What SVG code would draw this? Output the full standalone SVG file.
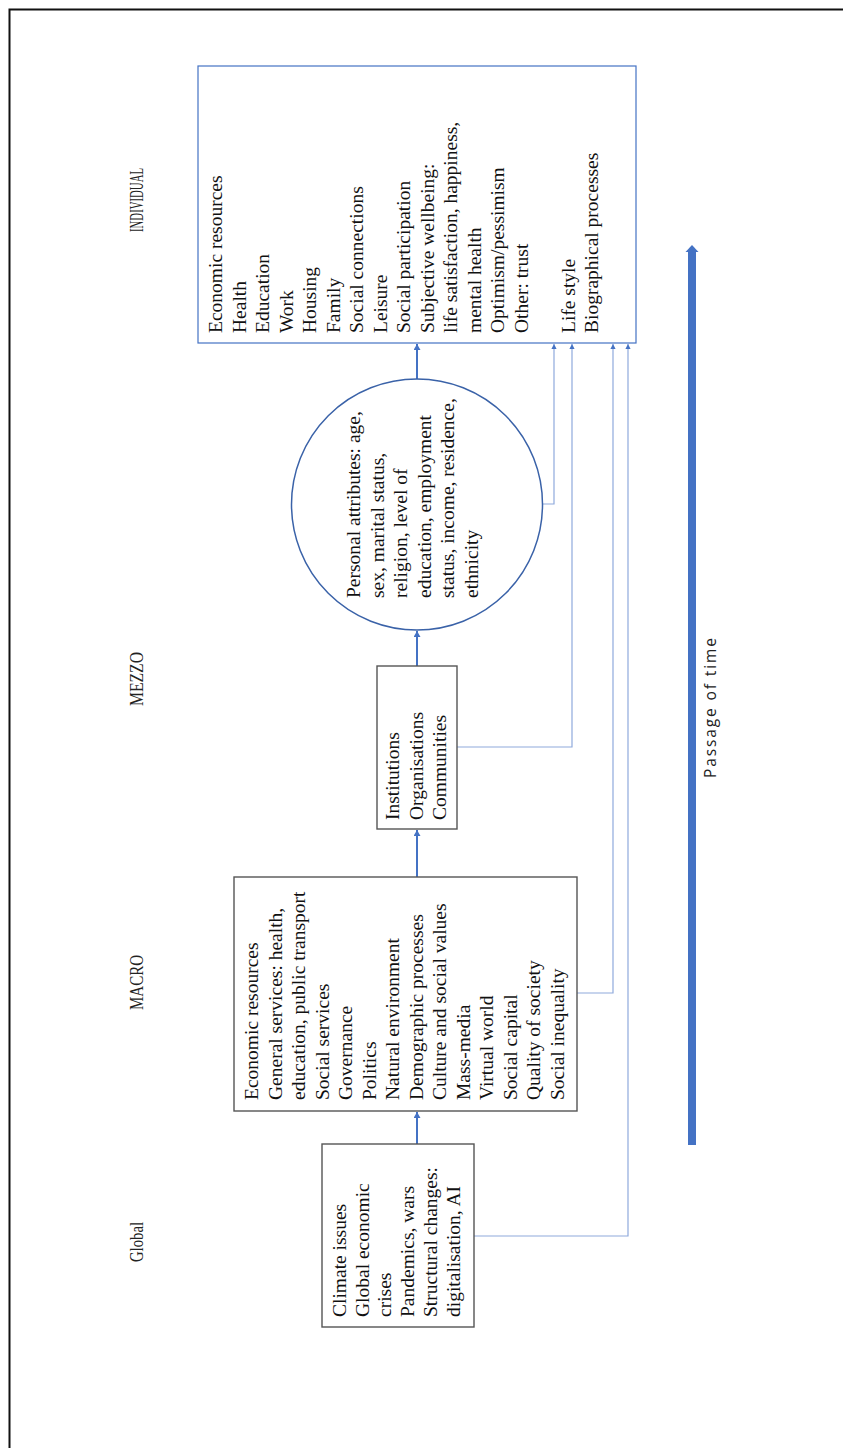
<svg xmlns="http://www.w3.org/2000/svg" width="843" height="1448" viewBox="0 0 843 1448">
<style>
.t{font-family:"Liberation Serif","Times New Roman",serif;font-size:19.5px;fill:#111;}
.lab{font-family:"Liberation Serif","Times New Roman",serif;font-size:19.5px;fill:#222;}
.box{fill:none;stroke:#555;stroke-width:1.4;}
.main{stroke:#4472C4;stroke-width:2;fill:none;}
.thin{stroke:#8FAADC;stroke-width:1.2;fill:none;}
</style>
<defs>
<marker id="ah" markerUnits="userSpaceOnUse" markerWidth="8" markerHeight="8" refX="6" refY="3.5" orient="auto"><path d="M0,0 L6,3.5 L0,7 z" fill="#4472C4"/></marker>
<marker id="sh" markerUnits="userSpaceOnUse" markerWidth="7" markerHeight="7" refX="5" refY="2.6" orient="auto"><path d="M0,0 L5,2.6 L0,5.2 z" fill="#4472C4"/></marker>
</defs>
<rect width="843" height="1448" fill="#fff"/>
<path d="M9.5,1448 V9.5 H843" fill="none" stroke="#111" stroke-width="2"/>

<g id="labels">
<text class="lab" transform="translate(143,232) rotate(-90)" textLength="64" lengthAdjust="spacingAndGlyphs">INDIVIDUAL</text>
<text class="lab" transform="translate(143,706) rotate(-90)" textLength="54" lengthAdjust="spacingAndGlyphs">MEZZO</text>
<text class="lab" transform="translate(143,1010) rotate(-90)" textLength="55" lengthAdjust="spacingAndGlyphs">MACRO</text>
<text class="lab" transform="translate(143,1262) rotate(-90)" textLength="40" lengthAdjust="spacingAndGlyphs">Global</text>
</g>

<g id="connectors">
<line class="main" x1="417" y1="1144" x2="417" y2="1112" marker-end="url(#ah)"/>
<line class="main" x1="417" y1="877" x2="417" y2="830" marker-end="url(#ah)"/>
<line class="main" x1="417" y1="666" x2="417" y2="631" marker-end="url(#ah)"/>
<line class="main" x1="417" y1="379" x2="417" y2="344" marker-end="url(#ah)"/>
<polyline class="thin" points="542,504 554,504 554,344" marker-end="url(#sh)"/>
<polyline class="thin" points="457,747 572,747 572,344" marker-end="url(#sh)"/>
<polyline class="thin" points="577,993 613,993 613,344" marker-end="url(#sh)"/>
<polyline class="thin" points="474,1236 628,1236 628,344" marker-end="url(#sh)"/>
</g>

<g id="individual">
<rect x="198" y="66" width="438" height="277" fill="none" stroke="#4472C4" stroke-width="1.2"/>
<text class="t" transform="translate(222,333) rotate(-90)">
<tspan x="0" dy="0">Economic resources</tspan>
<tspan x="0" dy="23.5">Health</tspan>
<tspan x="0" dy="23.5">Education</tspan>
<tspan x="0" dy="23.5">Work</tspan>
<tspan x="0" dy="23.5">Housing</tspan>
<tspan x="0" dy="23.5">Family</tspan>
<tspan x="0" dy="23.5">Social connections</tspan>
<tspan x="0" dy="23.5">Leisure</tspan>
<tspan x="0" dy="23.5">Social participation</tspan>
<tspan x="0" dy="23.5">Subjective wellbeing:</tspan>
<tspan x="0" dy="23.5">life satisfaction, happiness,</tspan>
<tspan x="0" dy="23.5">mental health</tspan>
<tspan x="0" dy="23.5">Optimism/pessimism</tspan>
<tspan x="0" dy="23.5">Other: trust</tspan>
<tspan x="0" dy="47">Life style</tspan>
<tspan x="0" dy="23.5">Biographical processes</tspan>
</text>
</g>

<g id="personal">
<circle cx="417" cy="504.5" r="125.5" fill="none" stroke="#3A62A8" stroke-width="1.5"/>
<text class="t" transform="translate(360,598) rotate(-90)">
<tspan x="0" dy="0">Personal attributes: age,</tspan>
<tspan x="0" dy="23.5">sex, marital status,</tspan>
<tspan x="0" dy="23.5">religion, level of</tspan>
<tspan x="0" dy="23.5">education, employment</tspan>
<tspan x="0" dy="23.5">status, income, residence,</tspan>
<tspan x="0" dy="23.5">ethnicity</tspan>
</text>
</g>

<g id="mezzo">
<rect class="box" x="377" y="666" width="80" height="163"/>
<text class="t" transform="translate(399,820) rotate(-90)">
<tspan x="0" dy="0">Institutions</tspan>
<tspan x="0" dy="23.5">Organisations</tspan>
<tspan x="0" dy="23.5">Communities</tspan>
</text>
</g>

<g id="macro">
<rect class="box" x="234" y="877" width="343" height="234"/>
<text class="t" transform="translate(258,1100) rotate(-90)">
<tspan x="0" dy="0">Economic resources</tspan>
<tspan x="0" dy="23.5">General services: health,</tspan>
<tspan x="0" dy="23.5">education, public transport</tspan>
<tspan x="0" dy="23.5">Social services</tspan>
<tspan x="0" dy="23.5">Governance</tspan>
<tspan x="0" dy="23.5">Politics</tspan>
<tspan x="0" dy="23.5">Natural environment</tspan>
<tspan x="0" dy="23.5">Demographic processes</tspan>
<tspan x="0" dy="23.5">Culture and social values</tspan>
<tspan x="0" dy="23.5">Mass-media</tspan>
<tspan x="0" dy="23.5">Virtual world</tspan>
<tspan x="0" dy="23.5">Social capital</tspan>
<tspan x="0" dy="23.5">Quality of society</tspan>
<tspan x="0" dy="23.5">Social inequality</tspan>
</text>
</g>

<g id="global">
<rect class="box" x="322" y="1144" width="152" height="183"/>
<text class="t" transform="translate(346,1317) rotate(-90)">
<tspan x="0" dy="0">Climate issues</tspan>
<tspan x="0" dy="22.7">Global economic</tspan>
<tspan x="0" dy="22.7">crises</tspan>
<tspan x="0" dy="22.7">Pandemics, wars</tspan>
<tspan x="0" dy="22.7">Structural changes:</tspan>
<tspan x="0" dy="22.7">digitalisation, AI</tspan>
</text>
</g>

<g id="time">
<rect x="688" y="251" width="8" height="894" fill="#4472C4"/>
<polygon points="692,245 698.5,252 685.5,252" fill="#4472C4"/>
<text transform="translate(716,778) rotate(-90)" font-family="'Open Sans','Liberation Sans',sans-serif" font-size="15.5" fill="#222" textLength="140" lengthAdjust="spacing">Passage of time</text>
</g>
</svg>
